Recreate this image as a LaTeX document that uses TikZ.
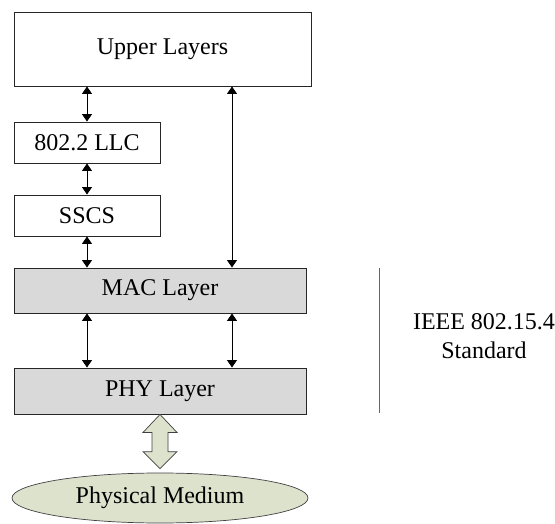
\documentclass[tikz,border=0pt]{standalone}
\usepackage{fontspec}
\setmainfont{Liberation Serif}
\usetikzlibrary{arrows.meta,shapes.geometric,calc}
\definecolor{boxgray}{RGB}{217,217,217}
\definecolor{medgreen}{RGB}{221,226,205}
\begin{document}
\begin{tikzpicture}[x=1pt,y=-1pt,
  every node/.style={font=\fontsize{24}{29}\selectfont, inner sep=0pt},
  layer/.style={draw=black!85, line width=0.9pt, rectangle},
  graylayer/.style={layer, fill=boxgray},
  dbl/.style={line width=0.9pt, {Triangle[length=7.5pt,width=10pt]}-{Triangle[length=7.5pt,width=10pt]}},
  bigarrow/.style={draw=black!75, line width=0.7pt, fill=medgreen}]
\useasboundingbox (0,0) rectangle (555,524);
\node[layer, minimum width=297pt, minimum height=74pt] (upper) at (162.5,49) {Upper Layers};
\node[layer, minimum width=146pt, minimum height=41pt] (llc) at (87,142.5) {802.2 LLC};
\node[layer, minimum width=146pt, minimum height=41pt] (sscs) at (87,215.5) {SSCS};
\node[graylayer, minimum width=292pt, minimum height=45pt] (mac) at (160,290.5) {MAC Layer};
\node[graylayer, minimum width=292pt, minimum height=46pt] (phy) at (160,391) {PHY Layer};
\node[ellipse, draw=black!75, line width=0.7pt, fill=medgreen, minimum width=296pt, minimum height=50pt] (med) at (160,498) {Physical Medium};
\coordinate (l) at (87,0);
\coordinate (r) at (232,0);
\draw[dbl] (upper.south -| l) -- (llc.north);
\draw[dbl] (llc.south) -- (sscs.north);
\draw[dbl] (sscs.south) -- (mac.north -| l);
\draw[dbl] (upper.south -| r) -- (mac.north -| r);
\draw[dbl] (mac.south -| l) -- (phy.north -| l);
\draw[dbl] (mac.south -| r) -- (phy.north -| r);
% hollow double arrow
\draw[bigarrow] (phy.south)
  -- ($(phy.south)+(17,18)$) -- ($(phy.south)+(8,18)$)
  -- ($(med.north)+(8,-21)$) -- ($(med.north)+(17,-21)$)
  -- ($(med.north)+(0,-4)$)
  -- ($(med.north)+(-17,-21)$) -- ($(med.north)+(-8,-21)$)
  -- ($(phy.south)+(-8,18)$) -- ($(phy.south)+(-17,18)$) -- cycle;
% standard bracket line and label
\coordinate (vt) at (379,268);
\coordinate (vb) at (379,413);
\draw[black!60, line width=0.9pt] (vt) -- (vb);
\node[align=center] (std) at (484,336) {IEEE 802.15.4\\Standard};
\end{tikzpicture}
\end{document}
